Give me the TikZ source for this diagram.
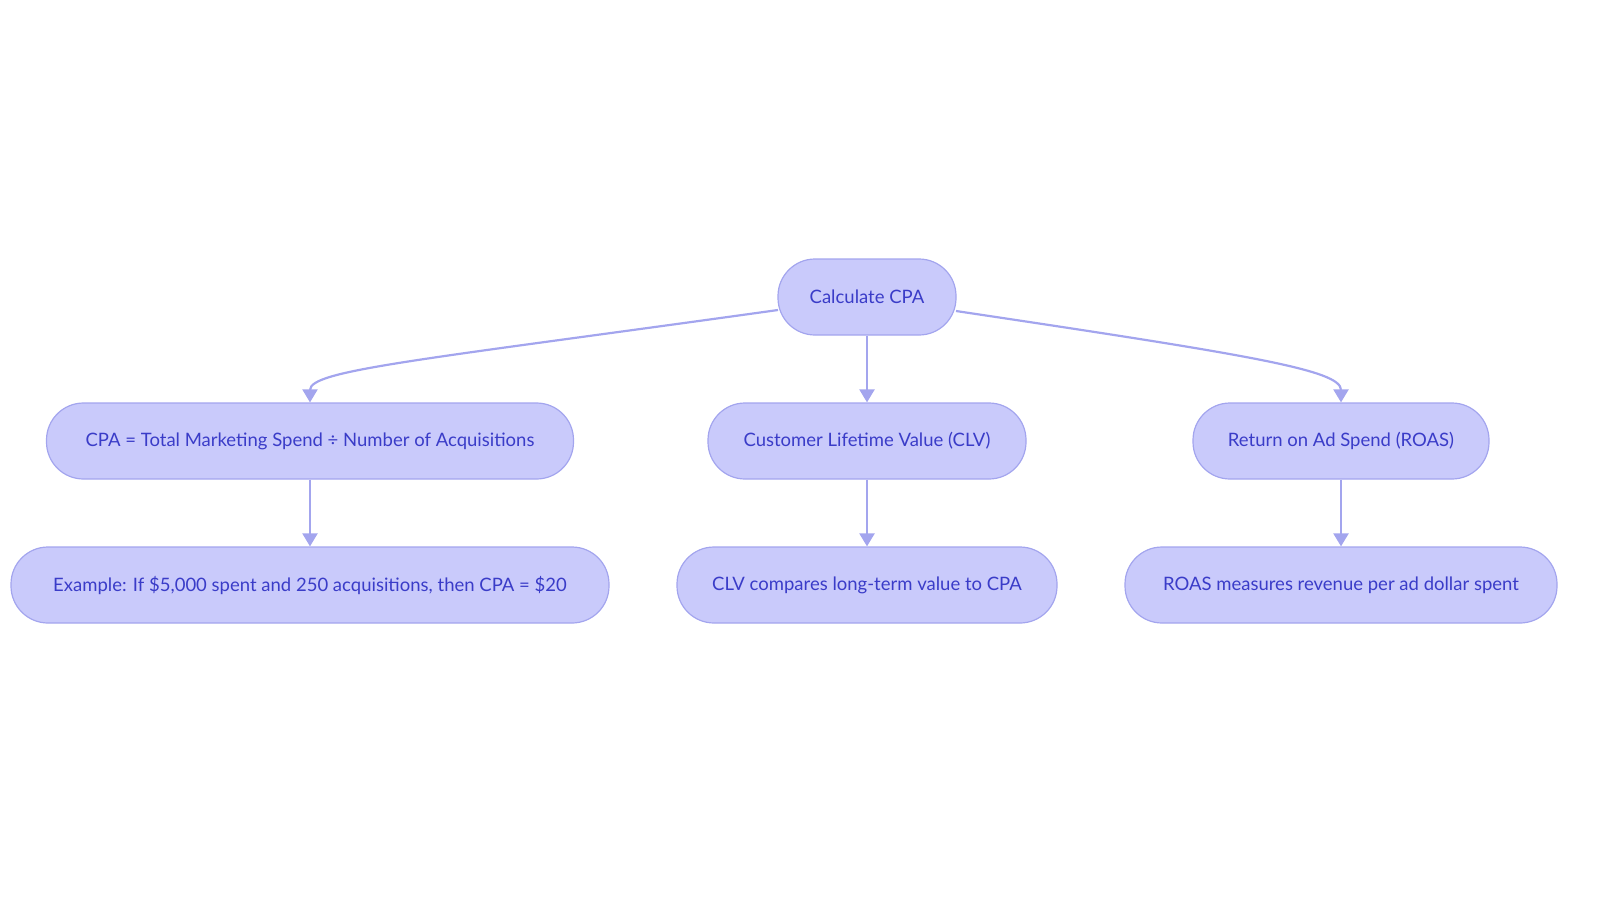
\documentclass[tikz,border=0pt]{standalone}
\usepackage{fontspec}
\setmainfont{Lato}
\usetikzlibrary{arrows.meta}
\definecolor{nfill}{HTML}{C9CAFB}
\definecolor{nline}{HTML}{A3A5EE}
\definecolor{ntext}{HTML}{3A3CC8}
\begin{document}
\begin{tikzpicture}[x=1pt,y=-1pt,
 box/.style={rounded corners=37pt,fill=nfill,draw=nline,line width=1.2pt,minimum height=76pt,text=ntext,font=\fontsize{18.5}{22}\selectfont,inner sep=0pt},
 arr/.style={draw=nline,line width=2.2pt,-{Triangle[length=13pt,width=15pt]}}]
\useasboundingbox (0,0) rectangle (1600,903);
\node[box,minimum width=178pt] (r) at (867,297) {Calculate CPA};
\node[box,minimum width=527pt] (a) at (310,441) {CPA = Total Marketing Spend ÷ Number of Acquisitions};
\node[box,minimum width=318pt] (b) at (867,441) {Customer Lifetime Value (CLV)};
\node[box,minimum width=296pt] (c) at (1341,441) {Return on Ad Spend (ROAS)};
\node[box,minimum width=598pt] (a2) at (310,585) {Example: If \$5,000 spent and 250 acquisitions, then CPA = \$20};
\node[box,minimum width=380pt] (b2) at (867,585) {CLV compares long-term value to CPA};
\node[box,minimum width=432pt] (c2) at (1341,585) {ROAS measures revenue per ad dollar spent};
\coordinate (rl) at (778,310);
\coordinate (rr) at (956,311);
\draw[arr] (rl) .. controls (420,360) and (310,370) .. (a.north);
\draw[arr] (rr) .. controls (1250,355) and (1341,370) .. (c.north);
\draw[arr] (r) -- (b);
\draw[arr] (a) -- (a2);
\draw[arr] (b) -- (b2);
\draw[arr] (c) -- (c2);
\end{tikzpicture}
\end{document}
